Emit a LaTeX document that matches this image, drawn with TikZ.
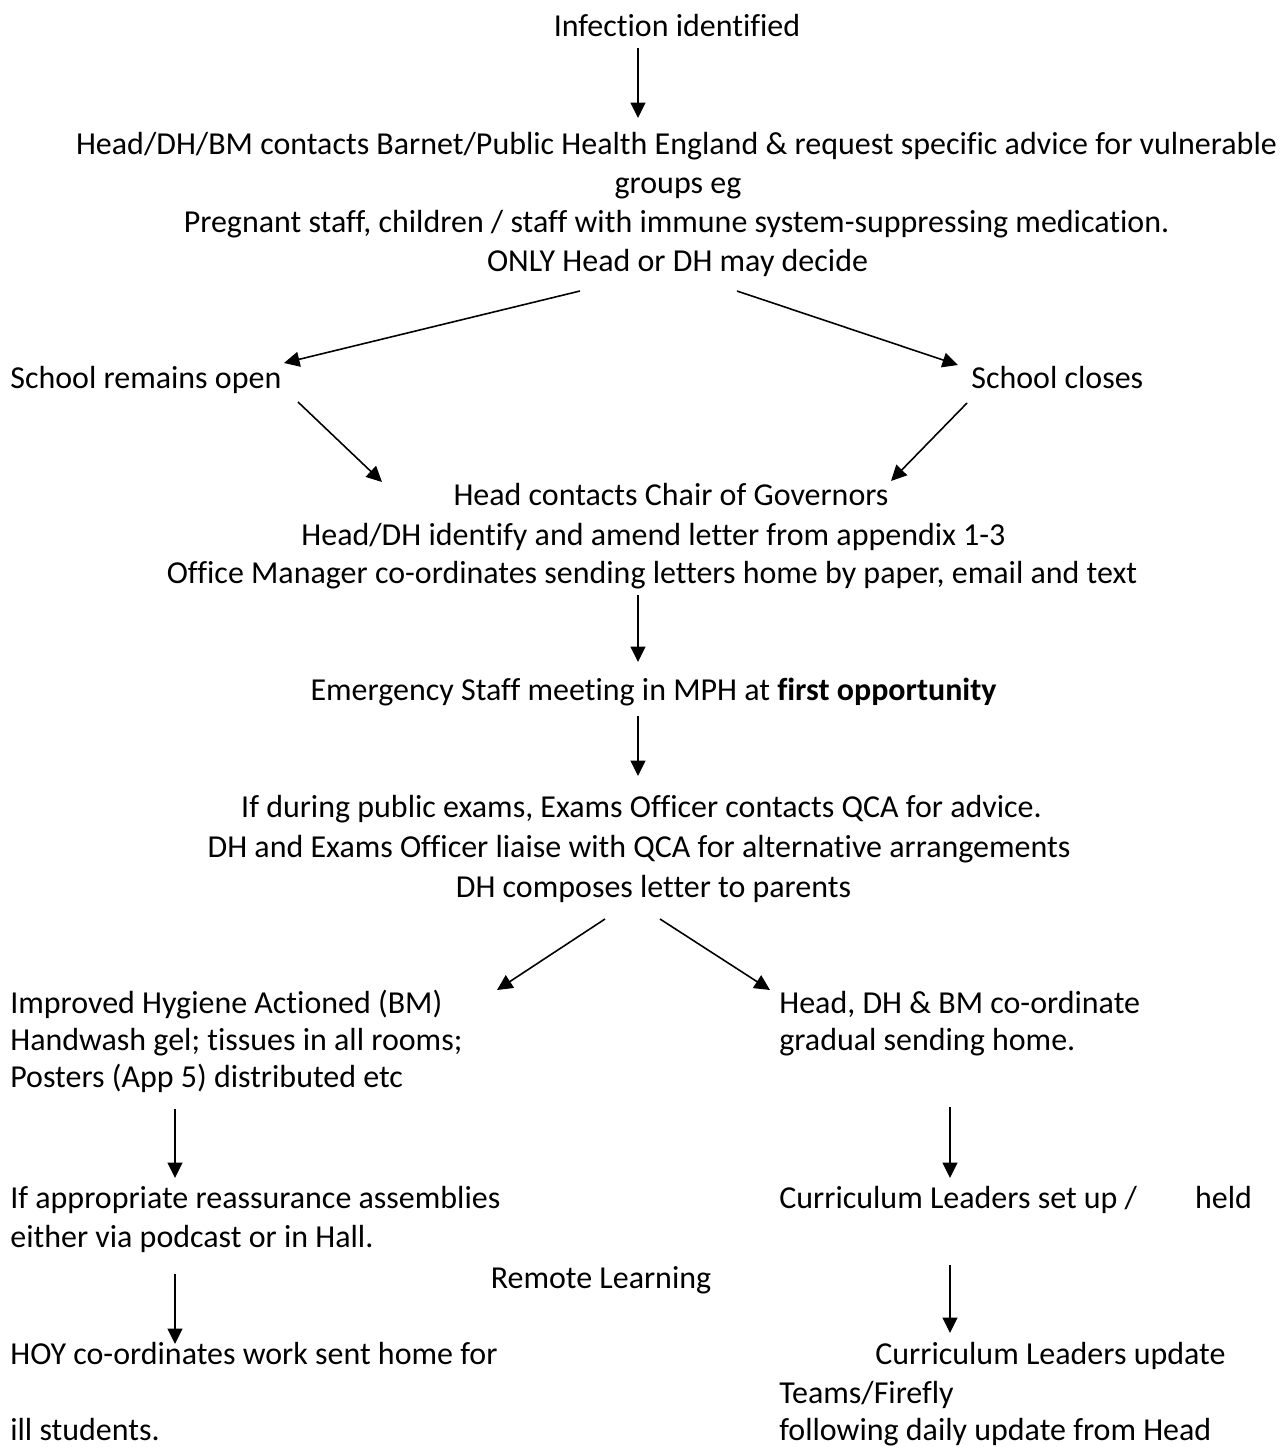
\documentclass[tikz,border=0pt]{standalone}
\usepackage{fontspec}
\setmainfont{Carlito}[Ligatures=NoCommon]
\usepackage{tikz}
\usetikzlibrary{arrows.meta,calc}

\begin{document}
\begin{tikzpicture}[x=0.02cm, y=-0.02cm,
  font=\fontsize{18.2pt}{21.6pt}\selectfont,
  txt/.style = {inner sep=0pt, anchor=base},
  ltxt/.style = {inner sep=0pt, anchor=base west},
  arr/.style = {line width=0.9pt, -{Triangle[length=3.1mm, width=3mm]}}]
\useasboundingbox (0,0) rectangle (1282,1447);
% top of the chart
\node[txt] (inf) at (677,36) {Infection identified};
\node[txt] (adv1) at (676.5,154) {Head/DH/BM contacts Barnet/Public Health England \& request specific advice for vulnerable};
\node[txt] (adv2) at (678,193) {groups eg};
\node[txt] (adv3) at (676.5,232) {Pregnant staff, children / staff with immune system-suppressing medication.};
\node[txt] (adv4) at (677.5,271) {ONLY Head or DH may decide};
\node[ltxt] (open) at (10,388) {School remains open};
\node[ltxt] (close) at (971,388) {School closes};
\node[txt] (gov1) at (671,505) {Head contacts Chair of Governors};
\node[txt] (gov2) at (653.5,545) {Head/DH identify and amend letter from appendix 1-3};
\node[txt] (gov3) at (652,583) {Office Manager co-ordinates sending letters home by paper, email and text};
\node[txt] (meet) at (653.5,700) {Emergency Staff meeting in MPH at \textbf{first opportunity}};
\node[txt] (exam1) at (641.5,817) {If during public exams, Exams Officer contacts QCA for advice.};
\node[txt] (exam2) at (639,857) {DH and Exams Officer liaise with QCA for alternative arrangements};
\node[txt] (exam3) at (653.5,897) {DH composes letter to parents};
% left column
\node[ltxt] (hyg1) at (10,1013) {Improved Hygiene Actioned (BM)};
\node[ltxt] (hyg2) at (10,1050) {Handwash gel; tissues in all rooms;};
\node[ltxt] (hyg3) at (10,1087) {Posters (App 5) distributed etc};
\node[ltxt] (assem1) at (10,1208) {If appropriate reassurance assemblies};
\node[ltxt] (assem2) at (10,1247) {either via podcast or in Hall.};
\node[ltxt] (hoy1) at (10,1364) {HOY co-ordinates work sent home for};
\node[ltxt] (hoy2) at (10,1440) {ill students.};
% right column
\node[ltxt] (send1) at (779,1013) {Head, DH \& BM co-ordinate};
\node[ltxt] (send2) at (779,1050) {gradual sending home.};
\node[ltxt] (setup) at (779,1208) {Curriculum Leaders set up /\hspace{33pt}held};
\node[txt] (remote) at (601,1288) {Remote Learning};
\node[ltxt] (upd1) at (875,1364) {Curriculum Leaders update};
\node[ltxt] (upd2) at (779,1403) {Teams/Firefly};
\node[ltxt] (upd3) at (779,1440) {following daily update from Head};
% arrows
\draw[arr] ($(inf.base)+(-39,12)$) -- ($(adv1.base)+(-38.5,-36)$);
\draw[arr] ($(adv4.base)+(-97.5,20)$) -- ($(open.base west)+(274,-25)$);
\draw[arr] ($(adv4.base)+(59.5,20)$) -- ($(close.base west)+(-13,-23)$);
\draw[arr] ($(open.base west)+(288,14)$) -- ($(gov1.base)+(-289,-23)$);
\draw[arr] ($(close.base west)+(-4,15)$) -- ($(gov1.base)+(220,-24)$);
\draw[arr] ($(gov3.base)+(-14,12)$) -- ($(meet.base)+(-15.5,-38)$);
\draw[arr] ($(meet.base)+(-15.5,16)$) -- ($(exam1.base)+(-3.5,-41)$);
\draw[arr] ($(exam3.base)+(-48.5,22)$) -- ($(hyg1.base west)+(487,-23)$);
\draw[arr] ($(exam3.base)+(6.5,22)$) -- ($(send1.base west)+(-9,-23)$);
\draw[arr] ($(hyg3.base west)+(165,22)$) -- ($(assem1.base west)+(165,-30)$);
\draw[arr] ($(send2.base west)+(171,57)$) -- ($(setup.base west)+(171,-30)$);
\draw[arr] ($(assem2.base west)+(165,27)$) -- ($(hoy1.base west)+(165,-20)$);
\draw[arr] ($(setup.base west)+(171,57)$) -- ($(upd1.base west)+(75,-31)$);
\end{tikzpicture}
\end{document}
